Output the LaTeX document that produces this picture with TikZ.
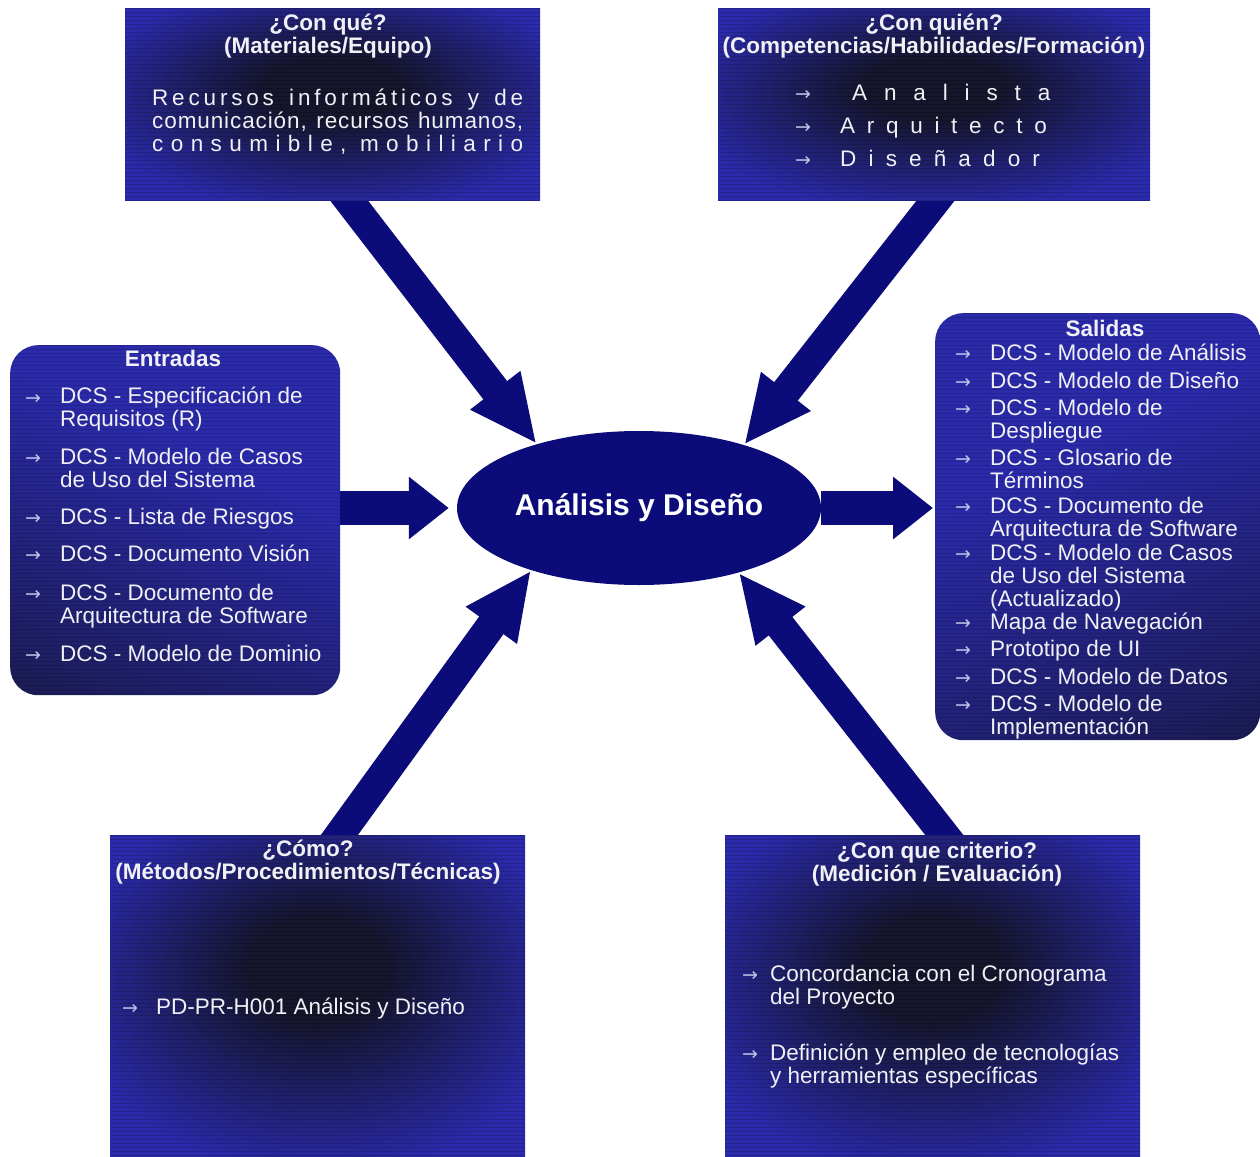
\documentclass[tikz,border=0pt]{standalone}
\usepackage{fontspec}
\setmainfont{Liberation Sans}
\newfontfamily\arrowfont{DejaVu Sans}
\usetikzlibrary{arrows.meta,backgrounds,calc,positioning,shapes.geometric}
\definecolor{adnavy}{HTML}{0B0B7A}
\definecolor{adbox}{HTML}{2A2AAA}
\definecolor{addeep}{HTML}{15152C}
\definecolor{adink}{HTML}{F0F0F6}
\definecolor{adbullet}{HTML}{BCC0E6}
\pgfdeclareradialshading{adglow}{\pgfpoint{0bp}{5bp}}{color(0bp)=(addeep); color(8bp)=(addeep); color(30bp)=(adbox); color(50bp)=(adbox)}
\pgfdeclareverticalshading{adfade}{100bp}{color(0bp)=(addeep); color(25bp)=(addeep!55!adbox); color(60bp)=(adbox); color(100bp)=(adbox)}
\tikzset{
  ad scan/.style={path picture={
    \foreach \k in {0,4,...,440}
      \draw[black, opacity=.16, line width=1.3pt]
        ([yshift=-\k pt]path picture bounding box.north west) --
        ([yshift=-\k pt]path picture bounding box.north east);}},
  ad box/.style={shading=adglow, ad scan, inner sep=0pt, anchor=north west},
  ad side/.style={rounded corners=28pt, shading=adfade, ad scan, inner sep=0pt,
    anchor=north west},
  ad title/.style={font=\bfseries\fontsize{22.5}{23}\selectfont, text=adink,
    align=center, anchor=base, inner sep=0pt},
  ad item/.style={font=\fontsize{22.5}{23}\selectfont, text=adink, align=left,
    anchor=base west, inner sep=0pt},
  ad bullet/.style={font=\arrowfont\fontsize{19}{19}\selectfont, text=adbullet,
    anchor=base west, inner sep=0pt},
  ad hub/.style={ellipse, fill=adnavy, minimum width=364pt, minimum height=154pt,
    inner sep=0pt, font=\bfseries\fontsize{30}{32}\selectfont, text=white},
  ad arrow/.style={-{Triangle[length=68pt,width=58pt]}, line width=30pt,
    draw=adnavy, line cap=butt},
  ad flat/.style={-{Triangle[length=40pt,width=60pt]}, line width=34pt}
}

\begin{document}
\begin{tikzpicture}[x=1pt, y=-1pt]
  \useasboundingbox (0,0) rectangle (1260,1156);
  % panels
  \node[ad box, minimum width=415pt, minimum height=192pt] (conque) at (125,8) {};
  \node[ad box, minimum width=432pt, minimum height=192pt] (conquien) at (718,8) {};
  \node[ad side, shading angle=-25, minimum width=330pt, minimum height=350pt] (entradas) at (10,345) {};
  \node[ad side, shading angle=25, minimum width=325pt, minimum height=427pt] (salidas) at (935,313) {};
  \node[ad box, minimum width=415pt, minimum height=321pt] (como) at (110,835) {};
  \node[ad box, minimum width=415pt, minimum height=321pt] (criterio) at (725,835) {};
  \node[ad hub] (hub) at (639,508) {Análisis y Diseño};

  % titles (base = last line)
  \node[ad title] (conqueT) at (328,53) {¿Con qué?\\(Materiales/Equipo)};
  \node[ad title] (conquienT) at (934,53) {¿Con quién?\\(Competencias/Habilidades/Formación)};
  \node[ad title] (entradasT) at (173,366) {Entradas};
  \node[ad title] (salidasT) at (1105,336) {Salidas};
  \node[ad title] (comoT) at (308,879) {¿Cómo?\\(Métodos/Procedimientos/Técnicas)};
  \node[ad title] (criterioT) at (937,881) {¿Con que criterio?\\(Medición / Evaluación)};

  % con que
  \node[ad item] (conqueB) at (152,151) {%
    \makebox[371pt][s]{\addfontfeature{LetterSpace=17}Recursos informáticos y de}\\
    \makebox[371pt][s]{\addfontfeature{LetterSpace=4}comunicación, recursos humanos,}\\
    \makebox[371pt][s]{\addfontfeature{LetterSpace=33}consumible, mobiliario}};

  % con quien
  \foreach \y/\x/\s/\t [count=\i] in {100/852/75/Analista, 133/840/52/Arquitecto, 166/840/54/Diseñador} {
    \node[ad bullet] (whob\i) at (795,\y) {→};
    \node[ad item] (who\i) at (\x,\y) {\addfontfeature{LetterSpace=\s}\t};
  }

  % entradas: bullet line / last line
  \foreach \y/\b/\t [count=\i] in {404/426/{DCS - Especificación de\\Requisitos (R)},
      464/487/{DCS - Modelo de Casos\\de Uso del Sistema}, 524/524/{DCS - Lista de Riesgos},
      561/561/{DCS - Documento Visión}, 600/623/{DCS - Documento de\\Arquitectura de Software},
      661/661/{DCS - Modelo de Dominio}} {
    \node[ad bullet] (inb\i) at (25,\y) {→};
    \node[ad item] (in\i) at (60,\b) {\t};
  }

  % salidas
  \foreach \y/\b/\t [count=\i] in {360/360/{DCS - Modelo de Análisis}, 388/388/{DCS - Modelo de Diseño},
      415/438/{DCS - Modelo de\\Despliegue}, 465/488/{DCS - Glosario de\\Términos},
      513/536/{DCS - Documento de\\Arquitectura de Software},
      560/606/{DCS - Modelo de Casos\\de Uso del Sistema\\(Actualizado)},
      629/629/{Mapa de Navegación}, 656/656/{Prototipo de UI}, 684/684/{DCS - Modelo de Datos},
      711/734/{DCS - Modelo de\\Implementación}} {
    \node[ad bullet] (outb\i) at (955,\y) {→};
    \node[ad item] (out\i) at (990,\b) {\t};
  }

  % como
  \node[ad bullet] (howb) at (122,1014) {→};
  \node[ad item] (how) at (156,1014) {PD-PR-H001 Análisis y Diseño};

  % criterio
  \foreach \y/\b/\t [count=\i] in {981/1004/{Concordancia con el Cronograma\\del Proyecto},
      1060/1083/{Definición y empleo de tecnologías\\y herramientas específicas}} {
    \node[ad bullet] (critb\i) at (742,\y) {→};
    \node[ad item] (crit\i) at (770,\b) {\t};
  }

  % block arrows
  \begin{scope}[on background layer]
    \fill[white] (0,0) rectangle (1260,1156);
    \draw[ad arrow] ([xshift=7pt,yshift=12pt]conque.south) -- (hub.148);
    \draw[ad arrow] ([xshift=11pt,yshift=12pt]conquien.south) -- (hub.31);
    \draw[ad arrow] ([xshift=13pt,yshift=-12pt]como.north) -- (hub.210);
    \draw[ad arrow] ([xshift=21pt,yshift=-12pt]criterio.north) -- (hub.327);
    \draw[ad arrow, ad flat, shorten >=8pt] (entradas.east |- hub.west) -- (hub.west);
    \draw[ad arrow, ad flat, shorten >=2pt] (hub.east) -- (salidas.west |- hub.east);
  \end{scope}
\end{tikzpicture}
\end{document}
